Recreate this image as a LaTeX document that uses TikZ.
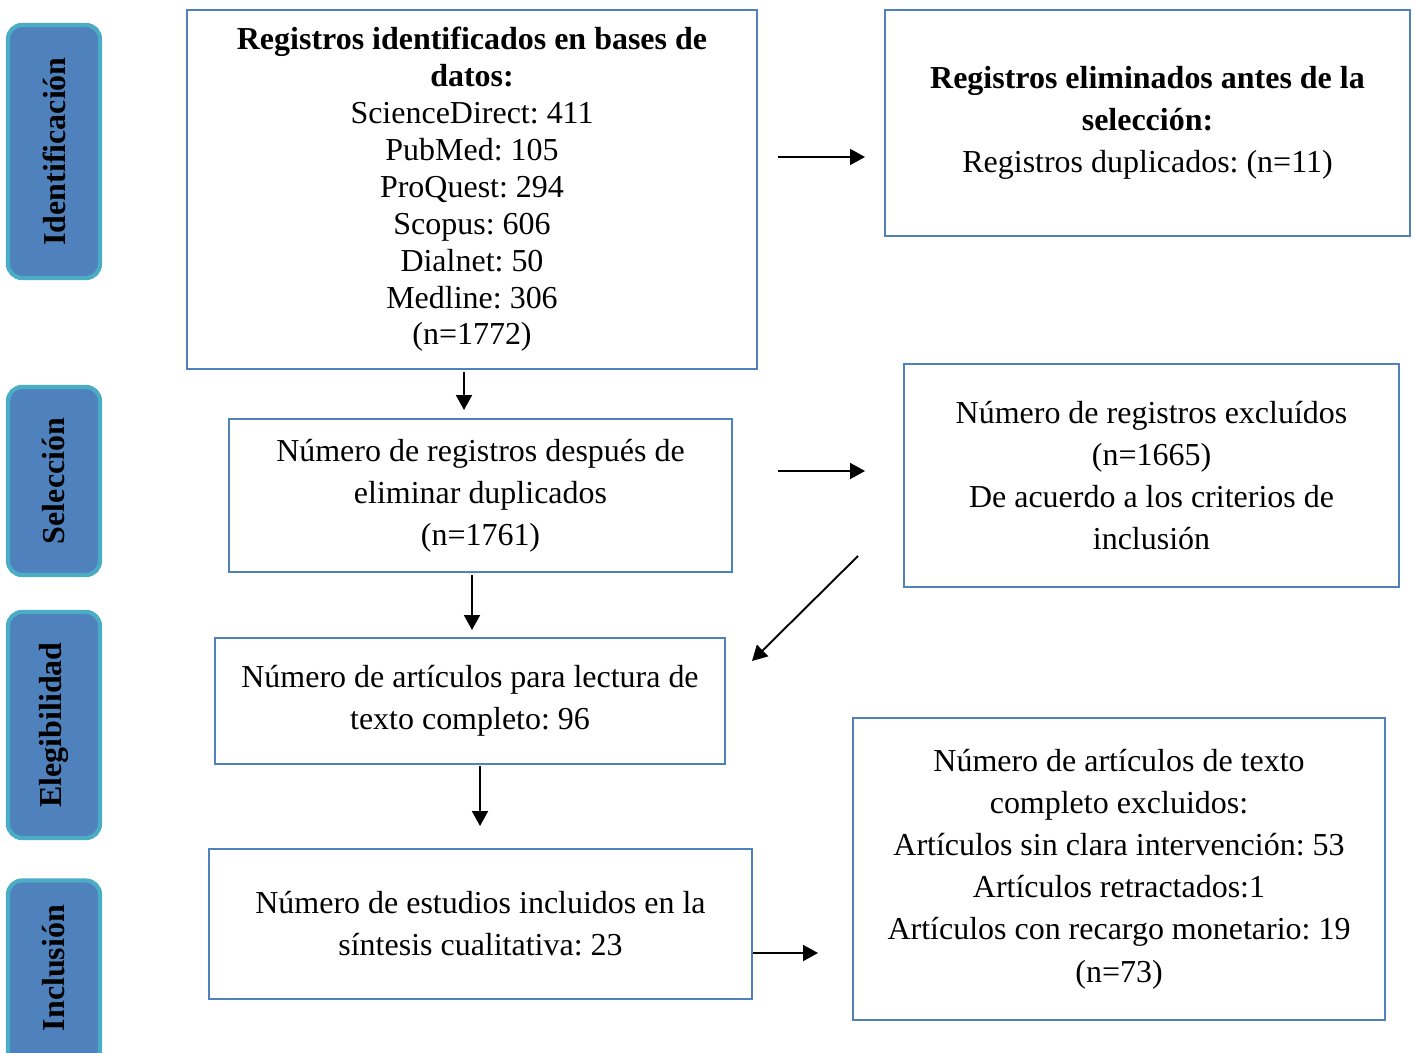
\documentclass[tikz,border=0pt]{standalone}
\usepackage{fontspec}
\setmainfont{Liberation Serif}
\usetikzlibrary{arrows.meta,positioning}
\frenchspacing

\definecolor{boxblue}{RGB}{79,129,189}
\definecolor{tabfill}{RGB}{79,129,189}
\definecolor{tabedge}{RGB}{75,172,198}

\tikzset{
  box/.style={draw=boxblue, line width=1.6pt, align=center, inner sep=0pt,
    font=\fontsize{18.2}{24}\selectfont},
  tab/.style={draw=tabedge, fill=tabfill, line width=2.4pt, rounded corners=0.28cm,
    minimum width=1.84cm, inner sep=0pt},
  tablabel/.style={rotate=90, font=\fontsize{18.2}{20}\selectfont\bfseries},
  flow/.style={-{Triangle[length=0.3cm,width=0.32cm]}, line width=1.1pt},
}

\begin{document}
\begin{tikzpicture}[x=0.02cm, y=-0.02cm]
  \clip (0,0) rectangle (1415,1053);

  % Stage tabs
  \node[tab, minimum height=5.06cm] (tabid) at (54,151.5) {};
  \node[tablabel] (lblid) at (tabid.center) {Identificación};
  \node[tab, minimum height=3.76cm] (tabsel) at (54,481) {};
  \node[tablabel] (lblsel) at (tabsel.center) {Selección};
  \node[tab, minimum height=4.52cm] (tabeleg) at (54,725) {};
  \node[tablabel] (lbleleg) at (tabeleg.center) {Elegibilidad};
  \node[tab, minimum height=3.9cm] (tabinc) at (54,978) {};
  \node[tablabel] (lblinc) at (54,968) {Inclusión};

  % Left column
  \node[box, minimum width=11.4cm, minimum height=7.18cm, font=\fontsize{18.2}{21}\selectfont] (ident) at (472,189.5)
    {\textbf{Registros identificados en bases de}\\\textbf{datos:}\\ScienceDirect: 411\\PubMed: 105\\ProQuest: 294\\Scopus: 606\\Dialnet: 50\\Medline: 306\\(n=1772)};
  \node[box, minimum width=10.06cm, minimum height=3.06cm] (dedup) at (480.5,495.5)
    {Número de registros después de\\eliminar duplicados\\(n=1761)};
  \node[box, minimum width=10.2cm, minimum height=2.52cm] (fulltext) at (470,701)
    {Número de artículos para lectura de\\texto completo: 96};
  \node[box, minimum width=10.86cm, minimum height=3cm] (incl) at (480.5,924)
    {Número de estudios incluidos en la\\síntesis cualitativa: 23};

  % Right column
  \node[box, minimum width=10.5cm, minimum height=4.52cm] (removed) at (1147.5,123)
    {\textbf{Registros eliminados antes de la}\\\textbf{selección:}\\Registros duplicados: (n=11)};
  \node[box, minimum width=9.9cm, minimum height=4.46cm] (excl) at (1151.5,475.5)
    {Número de registros excluídos\\(n=1665)\\De acuerdo a los criterios de\\inclusión};
  \node[box, minimum width=10.64cm, minimum height=6.04cm] (exclft) at (1119,869)
    {Número de artículos de texto\\completo excluidos:\\Artículos sin clara intervención: 53\\Artículos retractados:1\\Artículos con recargo monetario: 19\\(n=73)};

  % Arrow ends
  \coordinate (a1) at (778,157);
  \coordinate (b1) at (865,157);
  \coordinate (a2) at (464,372);
  \coordinate (b2) at (464,410);
  \coordinate (a3) at (778,471);
  \coordinate (b3) at (865,471);
  \coordinate (a4) at (472,575);
  \coordinate (b4) at (472,630);
  \coordinate (a5) at (858,556);
  \coordinate (b5) at (752,661);
  \coordinate (a6) at (480,766);
  \coordinate (b6) at (480,826);
  \coordinate (b7) at (818,953);

  % Arrows
  \draw[flow] (a1) -- (b1);
  \draw[flow] (a2) -- (b2);
  \draw[flow] (a3) -- (b3);
  \draw[flow] (a4) -- (b4);
  \draw[flow] (a5) -- (b5);
  \draw[flow] (a6) -- (b6);
  \draw[flow] (incl.east |- b7) -- (b7);
\end{tikzpicture}
\end{document}
